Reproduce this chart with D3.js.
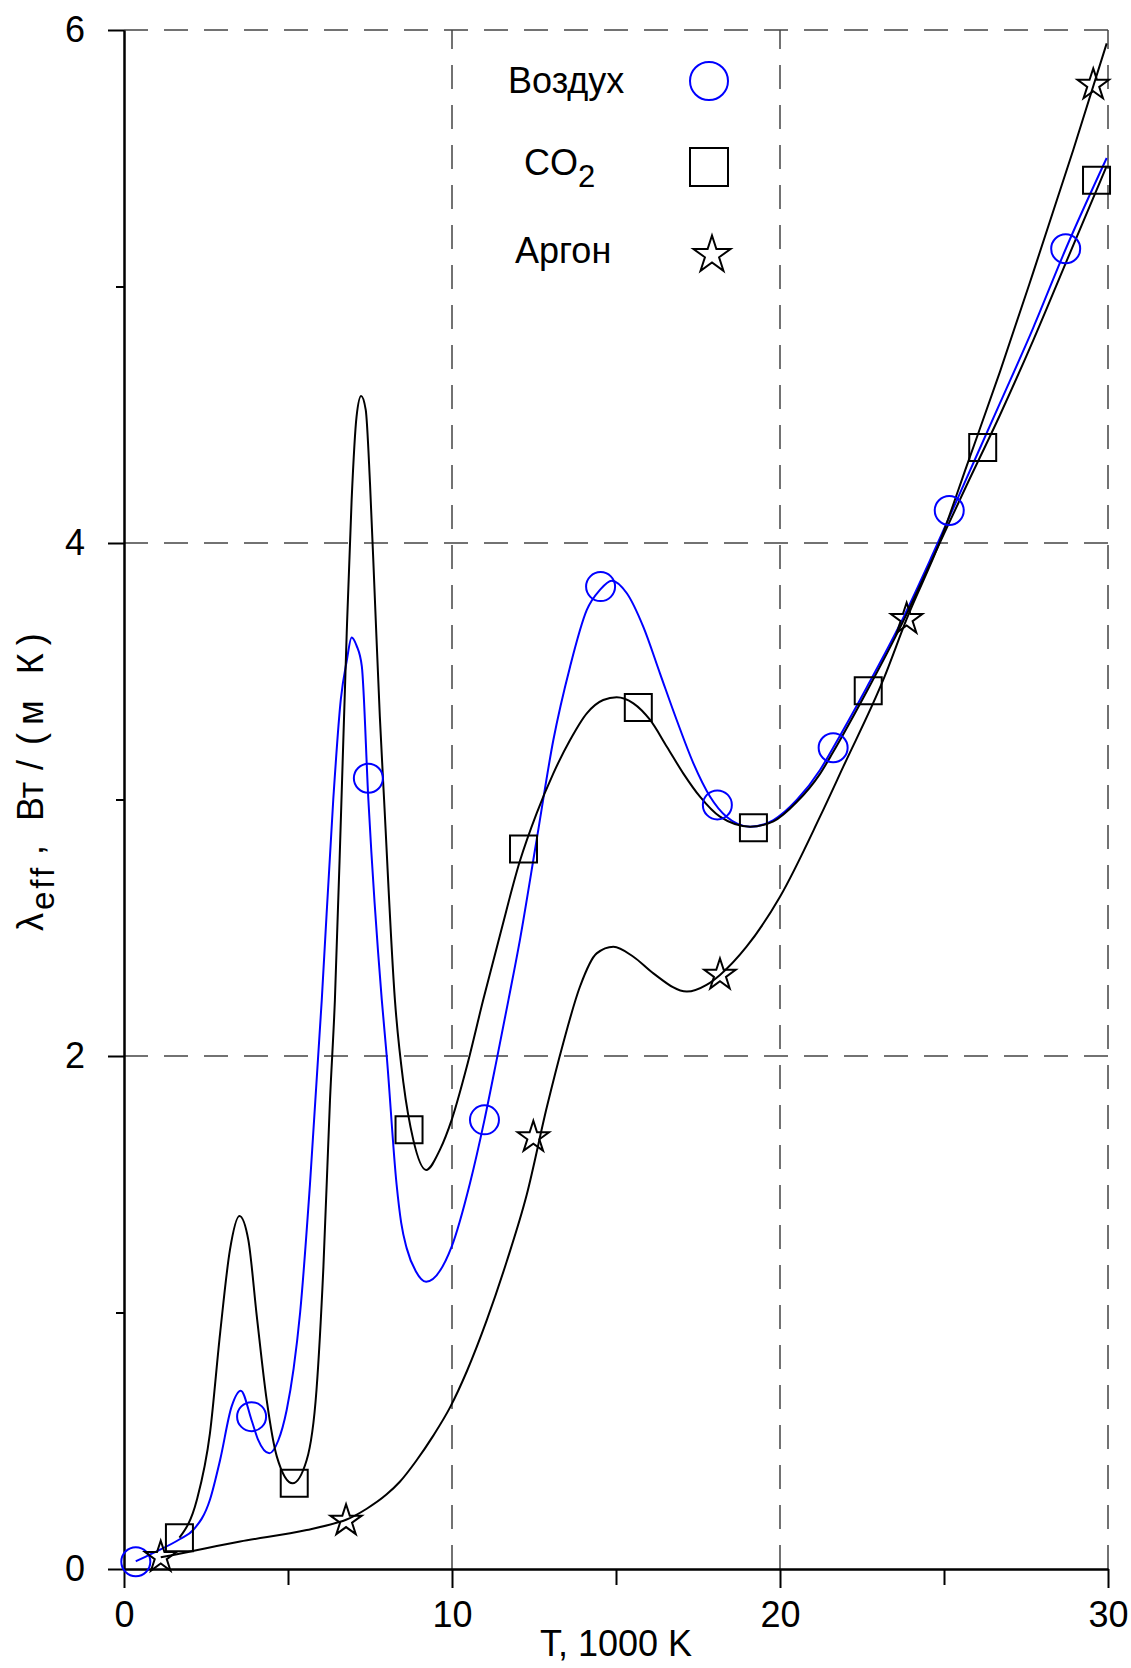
<!DOCTYPE html>
<html>
<head>
<meta charset="utf-8">
<script src="https://cdn.jsdelivr.net/npm/d3@7"></script>
<style>
  body { margin: 0; background: #fff; }
  text { font-family: "Liberation Sans", Arial, sans-serif; fill: #000; }
</style>
</head>
<body>
<div id="chart"></div>
<script>
// measured points (markers)
const airT = [0.36, 3.89, 7.45, 10.99, 14.53, 18.09, 21.62, 25.16, 28.71];
const airL = [0.028, 0.594, 3.083, 1.751, 3.830, 2.979, 3.202, 4.127, 5.147];
const co2T = [1.69, 5.19, 8.69, 12.18, 15.68, 19.19, 22.69, 26.18, 29.65];
const co2L = [0.122, 0.334, 1.712, 2.807, 3.359, 2.890, 3.424, 4.372, 5.414];
const arT = [1.12, 6.77, 12.48, 18.17, 23.86, 29.55];
const arL = [0.046, 0.188, 1.683, 2.316, 3.703, 5.786];

// fitted curves
const airCurveT = [0.36, 0.88, 1.71, 2.11, 2.62, 2.93, 3.28, 3.56, 3.89, 4.09, 4.43, 4.7, 4.96, 5.17, 5.37, 5.67, 6.03, 6.38, 6.61, 6.79, 6.94, 7.09, 7.25, 7.45, 7.86, 8.01, 8.31, 8.45, 8.62, 8.9, 9.21, 9.99, 10.55, 10.99, 11.36, 11.72, 12.07, 12.58, 13.09, 13.6, 14.11, 14.51, 14.87, 15.33, 15.83, 16.34, 16.85, 17.36, 17.87, 18.37, 19.09, 19.8, 20.51, 21.22, 21.62, 22.64, 23.66, 24.67, 25.69, 26.71, 27.72, 28.74, 29.96];
const airCurveL = [0.03, 0.062, 0.117, 0.152, 0.27, 0.425, 0.633, 0.695, 0.58, 0.503, 0.451, 0.50, 0.62, 0.78, 1.0, 1.50, 2.22, 3.0, 3.39, 3.54, 3.632, 3.60, 3.52, 3.0, 2.218, 2.0, 1.50, 1.35, 1.25, 1.16, 1.12, 1.257, 1.505, 1.751, 1.984, 2.218, 2.452, 2.842, 3.232, 3.518, 3.739, 3.817, 3.853, 3.804, 3.674, 3.492, 3.31, 3.141, 3.011, 2.933, 2.894, 2.92, 2.998, 3.115, 3.202, 3.436, 3.683, 3.96, 4.253, 4.546, 4.839, 5.155, 5.501];

const co2CurveT = [1.69, 2.22, 2.62, 2.93, 3.23, 3.52, 3.79, 4.05, 4.35, 4.66, 5.14, 5.57, 5.87, 6.08, 6.28, 6.43, 6.63, 6.79, 6.94, 7.09, 7.23, 7.37, 7.5, 7.65, 7.8, 7.93, 8.26, 8.52, 8.82, 9.21, 9.63, 9.99, 10.45, 10.95, 11.48, 12.07, 12.58, 13.09, 13.6, 14.11, 14.61, 15.02, 15.53, 16.04, 16.55, 17.05, 17.56, 18.17, 19.09, 19.8, 20.51, 21.22, 21.62, 22.64, 23.66, 24.67, 25.69, 26.71, 27.72, 28.74, 29.96];
const co2CurveL = [0.122, 0.269, 0.529, 0.919, 1.244, 1.376, 1.283, 0.984, 0.659, 0.438, 0.334, 0.425, 0.70, 1.179, 1.828, 2.218, 2.998, 3.648, 4.168, 4.493, 4.573, 4.519, 4.233, 3.778, 3.323, 2.998, 2.218, 1.894, 1.673, 1.556, 1.634, 1.751, 1.958, 2.218, 2.48, 2.76, 2.946, 3.102, 3.232, 3.336, 3.388, 3.399, 3.375, 3.31, 3.206, 3.102, 3.011, 2.933, 2.894, 2.915, 2.99, 3.10, 3.185, 3.42, 3.67, 3.945, 4.225, 4.50, 4.79, 5.10, 5.47];

const arCurveT = [1.12, 1.5, 3.54, 5.57, 6.48, 6.77, 7.4, 8.0, 8.41, 8.9, 9.43, 9.94, 10.45, 11.06, 11.67, 12.28, 12.89, 13.39, 13.9, 14.41, 14.92, 15.53, 16.14, 17.16, 17.76, 18.17, 18.98, 20.0, 21.22, 21.93, 23.15, 23.86, 24.88, 25.69, 26.71, 27.72, 28.94, 29.96];
const arCurveL = [0.046, 0.055, 0.107, 0.152, 0.18, 0.192, 0.235, 0.29, 0.34, 0.42, 0.52, 0.63, 0.77, 0.97, 1.20, 1.46, 1.80, 2.05, 2.27, 2.40, 2.426, 2.387, 2.322, 2.251, 2.277, 2.316, 2.426, 2.621, 2.933, 3.128, 3.467, 3.703, 4.007, 4.30, 4.669, 5.055, 5.532, 5.948];

const xMajor = [0, 10, 20, 30];
const xMinor = [5, 15, 25];
const yMajor = [0, 2, 4, 6];
const yMinor = [1, 3, 5];
const xGrid = [10, 20, 30];
const yGrid = [2, 4, 6];
const legendNames = ["Воздух", "CO", "Аргон"];

const W = 1131, H = 1668;
const svg = d3.select("#chart").append("svg")
    .attr("width", W)
    .attr("height", H);

const x = d3.scaleLinear().domain([0, 30]).range([124, 1108]);
const y = d3.scaleLinear().domain([0, 6]).range([1569, 30]);

// grid
svg.append("g").selectAll("line")
    .data(yGrid).enter().append("line")
    .attr("x1", x(0)).attr("x2", x(30))
    .attr("y1", d => y(d)).attr("y2", d => y(d))
    .attr("stroke", "#444").attr("stroke-width", 1.5)
    .attr("stroke-dasharray", "24,16");
svg.append("g").selectAll("line")
    .data(xGrid).enter().append("line")
    .attr("x1", d => x(d)).attr("x2", d => x(d))
    .attr("y1", y(0)).attr("y2", y(6))
    .attr("stroke", "#444").attr("stroke-width", 1.5)
    .attr("stroke-dasharray", "24,16");

// axes
const fs = 36;
svg.append("g")
    .attr("transform", `translate(${x(0)},0)`)
    .call(d3.axisLeft(y).tickValues(yMajor).tickSize(16).tickSizeOuter(0).tickPadding(23).tickFormat(d3.format("d")));
svg.append("g")
    .attr("transform", `translate(${x(0)},0)`)
    .call(d3.axisLeft(y).tickValues(yMinor).tickSize(8).tickSizeOuter(0).tickFormat(""));
svg.append("g")
    .attr("transform", `translate(0,${y(0)})`)
    .call(d3.axisBottom(x).tickValues(xMajor).tickSize(19).tickSizeOuter(0).tickPadding(13).tickFormat(d3.format("d")));
svg.append("g")
    .attr("transform", `translate(0,${y(0)})`)
    .call(d3.axisBottom(x).tickValues(xMinor).tickSize(16).tickSizeOuter(0).tickFormat(""));

svg.selectAll(".domain, .tick line").attr("stroke", "#000").attr("stroke-width", 2);
svg.selectAll(".tick text")
    .style("font-family", '"Liberation Sans", Arial, sans-serif')
    .style("font-size", fs + "px");

// axis titles
svg.append("text")
    .attr("x", 616).attr("y", 1656)
    .attr("text-anchor", "middle")
    .style("font-size", fs + "px")
    .text("T, 1000 K");

const yt = svg.append("text")
    .attr("transform", "translate(43,933) rotate(-90)")
    .style("font-size", fs + "px");
yt.append("tspan").attr("x", 2).text("λ");
yt.append("tspan").attr("x", 23).attr("dy", 11).style("font-size", "33px").style("letter-spacing", "3px").text("eff");
yt.append("tspan").attr("x", 78).attr("dy", -11).text(",");
yt.append("tspan").attr("x", 112).text("Вт");
yt.append("tspan").attr("x", 163).text("/");
yt.append("tspan").attr("x", 188).style("letter-spacing", "8px").text("(м К)");

// curves
const line = d3.line().x(d => x(d[0])).y(d => y(d[1])).curve(d3.curveMonotoneX);
const series = [
    { t: airCurveT, l: airCurveL, color: "#0000ff" },
    { t: co2CurveT, l: co2CurveL, color: "#000" },
    { t: arCurveT, l: arCurveL, color: "#000" }
];
series.forEach(s => {
    svg.append("path")
        .datum(s.t.map((t, i) => [t, s.l[i]]))
        .attr("d", line)
        .attr("fill", "none")
        .attr("stroke", s.color)
        .attr("stroke-width", 2);
});

// markers
function markers(ts, ls, type, size, color) {
    svg.append("g").selectAll("path")
        .data(ts.map((t, i) => [t, ls[i]]))
        .enter().append("path")
        .attr("transform", d => `translate(${x(d[0])},${y(d[1])})`)
        .attr("d", d3.symbol().type(type).size(size))
        .attr("fill", "none")
        .attr("stroke", color)
        .attr("stroke-width", 2);
}
const starSize = R => R * R / 0.8908130915292852;
markers(airT, airL, d3.symbolCircle, Math.PI * 14.5 * 14.5, "#0000ff");
markers(co2T, co2L, d3.symbolSquare, 27 * 27, "#000");
markers(arT, arL, d3.symbolStar, starSize(16.5), "#000");

// legend
const lg = svg.append("g");
lg.append("text").attr("x", 508).attr("y", 93).style("font-size", fs + "px").text(legendNames[0]);
const co = lg.append("text").attr("x", 524).attr("y", 175).style("font-size", fs + "px");
co.append("tspan").text(legendNames[1]);
co.append("tspan").attr("dy", 12).style("font-size", "31px").text("2");
lg.append("text").attr("x", 515).attr("y", 263).style("font-size", fs + "px").text(legendNames[2]);

lg.append("path").attr("transform", "translate(709,81)")
    .attr("d", d3.symbol().type(d3.symbolCircle).size(Math.PI * 19 * 19))
    .attr("fill", "none").attr("stroke", "#0000ff").attr("stroke-width", 2);
lg.append("path").attr("transform", "translate(709,167)")
    .attr("d", d3.symbol().type(d3.symbolSquare).size(38 * 38))
    .attr("fill", "none").attr("stroke", "#000").attr("stroke-width", 2);
lg.append("path").attr("transform", "translate(712,255)")
    .attr("d", d3.symbol().type(d3.symbolStar).size(starSize(19.5)))
    .attr("fill", "none").attr("stroke", "#000").attr("stroke-width", 2);
</script>
</body>
</html>
